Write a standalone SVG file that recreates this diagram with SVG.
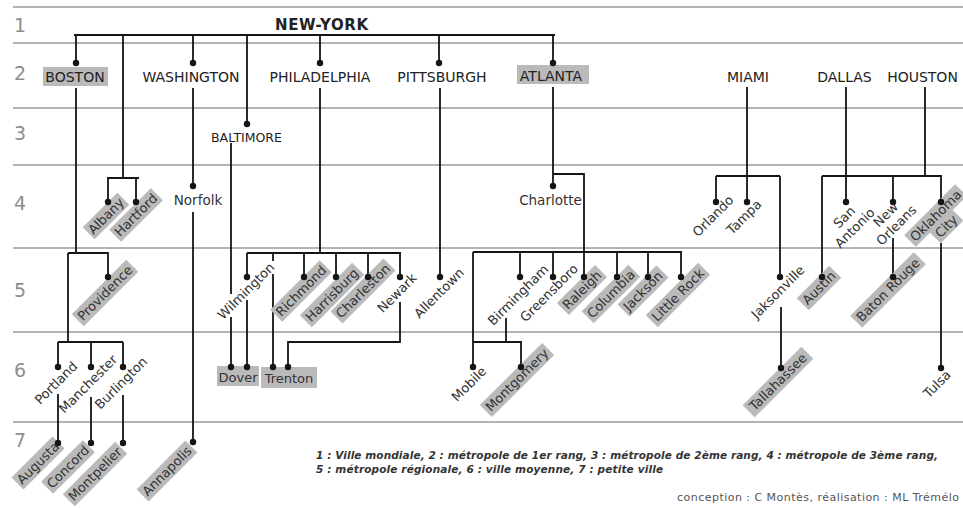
<svg xmlns="http://www.w3.org/2000/svg" width="963" height="508" viewBox="0 0 963 508">
<style>
.row{stroke:#9c9c9c;stroke-width:1.5;fill:none}
.num{font-family:"DejaVu Sans","Liberation Sans",sans-serif;font-size:19px;fill:#8e8e8e;text-anchor:middle}
.c{stroke:#151515;stroke-width:1.8;fill:none}
.d{fill:#151515}
.hl{fill:#bababa}
.t1{font-family:"DejaVu Sans","Liberation Sans",sans-serif;font-size:15px;font-weight:bold;fill:#222}
.t2{font-family:"DejaVu Sans","Liberation Sans",sans-serif;font-size:14px;fill:#222;text-anchor:middle}
.t3{font-family:"DejaVu Sans","Liberation Sans",sans-serif;font-size:12.5px;fill:#222;text-anchor:middle}
.lb{font-family:"DejaVu Sans","Liberation Sans",sans-serif;font-size:13px;fill:#333;text-anchor:middle}
.lg{font-family:"DejaVu Sans","Liberation Sans",sans-serif;font-size:10.5px;font-style:italic;font-weight:bold;fill:#333}
.cr{font-family:"DejaVu Sans","Liberation Sans",sans-serif;font-size:11px;fill:#555}
</style>
<rect width="963" height="508" fill="#fff"/>
<g id="rows">
<path class="row" d="M13 7H963M13 43H963M13 108H963M13 165H963M13 248H963M13 332H963M13 422H963"/>
<text class="num" x="20" y="32">1</text>
<text class="num" x="20" y="80">2</text>
<text class="num" x="20" y="140">3</text>
<text class="num" x="20" y="210">4</text>
<text class="num" x="20" y="297">5</text>
<text class="num" x="20" y="377">6</text>
<text class="num" x="20" y="447">7</text>
</g>
<g id="connectors">
<path class="c" d="M74 35H555M76 35V63M123 35V178M193 35V63M247 35V124M320 35V63M439 35V63M553 35V63"/>
<path class="c" d="M76 88V253M68 253H108V277M68 253V342M58 342H123M58 342V367M91 342V367M123 342V367"/>
<path class="c" d="M107 178H139M108 178V202M136 178V202"/>
<path class="c" d="M58 394V443M91 397V443M123 395V443"/>
<path class="c" d="M193 88V186M193 212V442"/>
<path class="c" d="M231 143V294M231 317V367"/>
<path class="c" d="M320 88V253M247 253H401M247 253V277M304 253V277M336 253V277M368 253V277M400 253V277M273 253V261M273 274V367M247 300V367M400 302V342H288V367"/>
<path class="c" d="M440 88V277"/>
<path class="c" d="M553 87V186M553 174H584V277M473 252H682M520 252V277M553 252V277M617 252V277M648 252V277M681 252V277M473 252V367M506 318V342M473 342H521V367"/>
<path class="c" d="M747 87V202M716 176H780M716 176V202M780 176V277M781 307V368"/>
<path class="c" d="M846 87V202M925 87V176M822 176H942M822 176V277M893 176V202M941 176V202M893 238V277M941 243V368"/>
</g>
<g id="NEW-YORK"><text class="t1" x="275" y="30" textLength="93">NEW-YORK</text></g>
<g id="BOSTON"><rect class="hl" x="43" y="67" width="65" height="19"/><text class="t2" x="75" y="82">BOSTON</text></g>
<g id="WASHINGTON"><text class="t2" x="191" y="82">WASHINGTON</text></g>
<g id="PHILADELPHIA"><text class="t2" x="320" y="82">PHILADELPHIA</text></g>
<g id="PITTSBURGH"><text class="t2" x="442" y="82">PITTSBURGH</text></g>
<g id="ATLANTA"><rect class="hl" x="517" y="65" width="72" height="19"/><text class="t2" x="551" y="81">ATLANTA</text></g>
<g id="MIAMI"><text class="t2" x="748" y="82">MIAMI</text></g>
<g id="DALLAS"><text class="t2" x="844.5" y="82">DALLAS</text></g>
<g id="HOUSTON"><text class="t2" x="922.5" y="82">HOUSTON</text></g>
<g id="BALTIMORE"><text class="t3" x="246.5" y="142">BALTIMORE</text></g>
<g id="Norfolk"><text class="lb" x="198" y="205" style="font-size:13.5px">Norfolk</text></g>
<g id="Charlotte"><text class="lb" x="550.5" y="205" style="font-size:13.5px">Charlotte</text></g>
<g id="Dover"><rect class="hl" x="217" y="366" width="42" height="20"/><text class="lb" x="238" y="382">Dover</text></g>
<g id="Trenton"><rect class="hl" x="261" y="367" width="56" height="21"/><text class="lb" x="289" y="383">Trenton</text></g>
<g id="Albany" transform="translate(106 216) rotate(-45)"><rect class="hl" x="-24.5" y="-8.5" width="49" height="17"/><text class="lb" y="4.5">Albany</text></g>
<g id="Hartford" transform="translate(136 215) rotate(-45)"><rect class="hl" x="-29.5" y="-8.5" width="59" height="17"/><text class="lb" y="4.5">Hartford</text></g>
<g id="Providence" transform="translate(105 293) rotate(-45)"><rect class="hl" x="-38.5" y="-8.5" width="77" height="17"/><text class="lb" y="4.5">Providence</text></g>
<g id="Portland" transform="translate(56 383) rotate(-45)"><text class="lb" y="4.5">Portland</text></g>
<g id="Manchester" transform="translate(88 384) rotate(-45)"><text class="lb" y="4.5">Manchester</text></g>
<g id="Burlington" transform="translate(121 383) rotate(-45)"><text class="lb" y="4.5">Burlington</text></g>
<g id="Augusta" transform="translate(38 463) rotate(-45)"><rect class="hl" x="-29" y="-8.5" width="58" height="17"/><text class="lb" y="4.5">Augusta</text></g>
<g id="Concord" transform="translate(68 467) rotate(-45)"><rect class="hl" x="-29.5" y="-8.5" width="59" height="17"/><text class="lb" y="4.5">Concord</text></g>
<g id="Montpelier" transform="translate(95 474) rotate(-45)"><rect class="hl" x="-37" y="-8.5" width="74" height="17"/><text class="lb" y="4.5">Montpelier</text></g>
<g id="Annapolis" transform="translate(167 471) rotate(-45)"><rect class="hl" x="-34.5" y="-8.5" width="69" height="17"/><text class="lb" y="4.5">Annapolis</text></g>
<g id="Wilmington" transform="translate(246 291) rotate(-45)"><text class="lb" y="4.5">Wilmington</text></g>
<g id="Richmond" transform="translate(301 291) rotate(-45)"><rect class="hl" x="-35" y="-8.5" width="70" height="17"/><text class="lb" y="4.5">Richmond</text></g>
<g id="Harrisburg" transform="translate(332 295) rotate(-45)"><rect class="hl" x="-37" y="-8.5" width="74" height="17"/><text class="lb" y="4.5">Harrisburg</text></g>
<g id="Charleston" transform="translate(363 291) rotate(-45)"><rect class="hl" x="-37.5" y="-8.5" width="75" height="17"/><text class="lb" y="4.5">Charleston</text></g>
<g id="Newark" transform="translate(397 293) rotate(-45)"><text class="lb" y="4.5">Newark</text></g>
<g id="Allentown" transform="translate(439 293) rotate(-45)"><text class="lb" y="4.5">Allentown</text></g>
<g id="Birmingham" transform="translate(518 295) rotate(-45)"><text class="lb" y="4.5">Birmingham</text></g>
<g id="Greensboro" transform="translate(549 293) rotate(-45)"><text class="lb" y="4.5">Greensboro</text></g>
<g id="Raleigh" transform="translate(582 290) rotate(-45)"><rect class="hl" x="-27" y="-8.5" width="54" height="17"/><text class="lb" y="4.5">Raleigh</text></g>
<g id="Columbia" transform="translate(611 294) rotate(-45)"><rect class="hl" x="-33" y="-8.5" width="66" height="17"/><text class="lb" y="4.5">Columbia</text></g>
<g id="Jackson" transform="translate(643 291) rotate(-45)"><rect class="hl" x="-27.5" y="-8.5" width="55" height="17"/><text class="lb" y="4.5">Jackson</text></g>
<g id="Little-Rock" transform="translate(678 295) rotate(-45)"><rect class="hl" x="-37" y="-8.5" width="74" height="17"/><text class="lb" y="4.5">Little Rock</text></g>
<g id="Mobile" transform="translate(469 384) rotate(-45)"><text class="lb" y="4.5">Mobile</text></g>
<g id="Montgomery" transform="translate(517 380) rotate(-45)"><rect class="hl" x="-44" y="-8.5" width="88" height="17"/><text class="lb" y="4.5">Montgomery</text></g>
<g id="Orlando" transform="translate(713 216) rotate(-45)"><text class="lb" y="4.5">Orlando</text></g>
<g id="Tampa" transform="translate(744 217) rotate(-45)"><text class="lb" y="4.5">Tampa</text></g>
<g id="Jacksonville" transform="translate(778 292) rotate(-45)"><text class="lb" y="4.5">Jaksonville</text></g>
<g id="Tallahassee" transform="translate(778 382) rotate(-45)"><rect class="hl" x="-41.5" y="-8.5" width="83" height="17"/><text class="lb" y="4.5">Tallahassee</text></g>
<g id="San-Antonio" transform="translate(849.5 222.5) rotate(-45)"><text class="lb" y="-3">San</text><text class="lb" y="12">Antonio</text></g>
<g id="New-Orleans" transform="translate(891 220) rotate(-45)"><text class="lb" y="-3">New</text><text class="lb" y="12">Orleans</text></g>
<g id="Oklahoma-City" transform="translate(941 221) rotate(-45)"><rect class="hl" x="-36" y="-16" width="72" height="16.5"/><rect class="hl" x="-16" y="-0.5" width="32" height="16"/><text class="lb" y="-3">Oklahoma</text><text class="lb" y="12">City</text></g>
<g id="Austin" transform="translate(819 288) rotate(-45)"><rect class="hl" x="-23" y="-8.5" width="46" height="17"/><text class="lb" y="4.5">Austin</text></g>
<g id="Baton-Rouge" transform="translate(888 290) rotate(-45)"><rect class="hl" x="-45" y="-8.5" width="90" height="17"/><text class="lb" y="4.5">Baton Rouge</text></g>
<g id="Tulsa" transform="translate(937 384) rotate(-45)"><text class="lb" y="4.5">Tulsa</text></g>
<g id="dots" class="d">
<circle cx="76" cy="63" r="3.2"/><circle cx="193" cy="63" r="3.2"/><circle cx="320" cy="63" r="3.2"/><circle cx="439" cy="63" r="3.2"/><circle cx="553" cy="63" r="3.2"/>
<circle cx="247" cy="124" r="3.2"/><circle cx="108" cy="202" r="3.2"/><circle cx="136" cy="202" r="3.2"/><circle cx="193" cy="186" r="3.2"/><circle cx="553" cy="186" r="3.2"/>
<circle cx="108" cy="277" r="3.2"/><circle cx="58" cy="367" r="3.2"/><circle cx="91" cy="367" r="3.2"/><circle cx="123" cy="367" r="3.2"/>
<circle cx="58" cy="443" r="3.2"/><circle cx="91" cy="443" r="3.2"/><circle cx="123" cy="443" r="3.2"/><circle cx="193" cy="442" r="3.2"/>
<circle cx="247" cy="277" r="3.2"/><circle cx="304" cy="277" r="3.2"/><circle cx="336" cy="277" r="3.2"/><circle cx="368" cy="277" r="3.2"/><circle cx="400" cy="277" r="3.2"/>
<circle cx="231" cy="367" r="3.2"/><circle cx="247" cy="367" r="3.2"/><circle cx="273" cy="367" r="3.2"/><circle cx="288" cy="367" r="3.2"/>
<circle cx="440" cy="277" r="3.2"/><circle cx="520" cy="277" r="3.2"/><circle cx="553" cy="277" r="3.2"/><circle cx="584" cy="277" r="3.2"/><circle cx="617" cy="277" r="3.2"/><circle cx="648" cy="277" r="3.2"/><circle cx="681" cy="277" r="3.2"/>
<circle cx="473" cy="367" r="3.2"/><circle cx="521" cy="367" r="3.2"/>
<circle cx="716" cy="202" r="3.2"/><circle cx="747" cy="202" r="3.2"/><circle cx="780" cy="277" r="3.2"/><circle cx="781" cy="368" r="3.2"/>
<circle cx="846" cy="202" r="3.2"/><circle cx="893" cy="202" r="3.2"/><circle cx="941" cy="202" r="3.2"/><circle cx="822" cy="277" r="3.2"/><circle cx="893" cy="277" r="3.2"/><circle cx="941" cy="368" r="3.2"/>
</g>
<g id="legend">
<text class="lg" x="316" y="459" textLength="622">1 : Ville mondiale, 2 : métropole de 1er rang, 3 : métropole de 2ème rang, 4 : métropole de 3ème rang,</text>
<text class="lg" x="316" y="473" textLength="347">5 : métropole régionale, 6 : ville moyenne, 7 : petite ville</text>
<text class="cr" x="677" y="501" textLength="282">conception : C Montès, réalisation : ML Trémélo</text>
</g>
</svg>
